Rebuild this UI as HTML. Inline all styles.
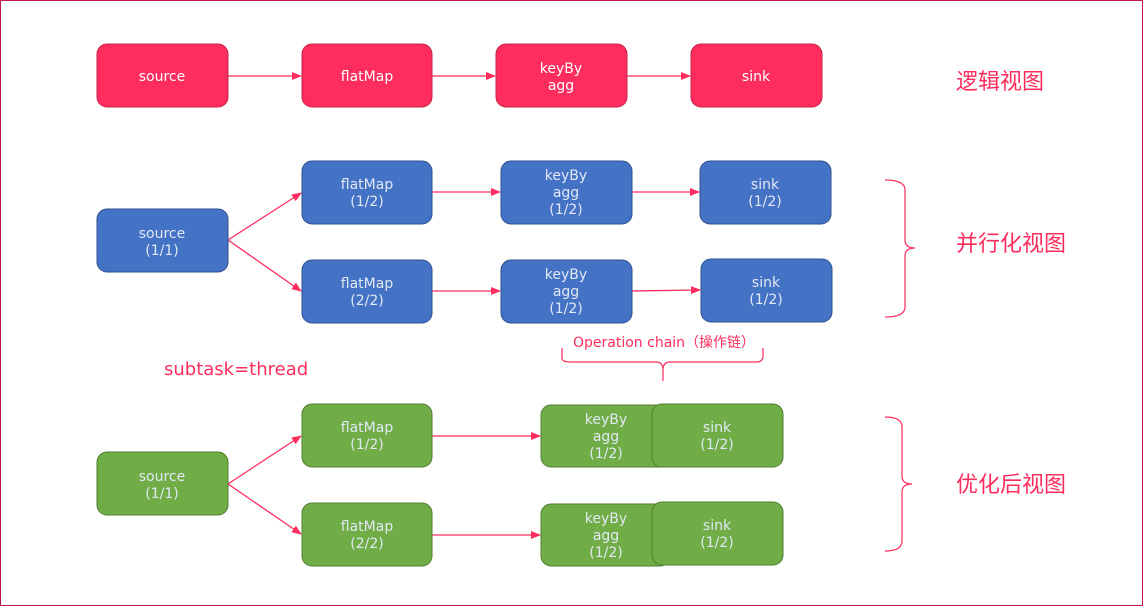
<!DOCTYPE html>
<html><head><meta charset="utf-8"><style>
html,body{margin:0;padding:0;background:#fff}
svg{display:block}
text{font-family:"DejaVu Sans","Liberation Sans","Noto Sans CJK SC",sans-serif}
</style></head><body>
<svg width="1143" height="606" viewBox="0 0 1143 606" xmlns="http://www.w3.org/2000/svg">
<defs><marker id="a" markerWidth="10" markerHeight="8" refX="9" refY="4" orient="auto" markerUnits="userSpaceOnUse"><path d="M0,0 L10,4 L0,8 z" fill="#ff2d5e"/></marker></defs>
<rect x="0.5" y="0.5" width="1142" height="605" fill="#fff" stroke="#c0184a" stroke-width="1"/>
<g stroke="#ff2d5e" stroke-width="1.3" fill="none" marker-end="url(#a)">
<line x1="228" y1="76" x2="301" y2="76"/><line x1="432" y1="76" x2="495" y2="76"/><line x1="627" y1="76" x2="690" y2="76"/>
<line x1="228" y1="240" x2="301" y2="193"/><line x1="228" y1="240" x2="301" y2="291"/>
<line x1="432" y1="192" x2="500" y2="192"/><line x1="632" y1="192" x2="699" y2="192"/>
<line x1="432" y1="291" x2="500" y2="291"/><line x1="632" y1="291" x2="700" y2="290"/>
<line x1="228" y1="484" x2="301" y2="436"/><line x1="228" y1="484" x2="301" y2="534"/>
<line x1="432" y1="436" x2="540" y2="436"/><line x1="432" y1="535" x2="540" y2="535"/>
</g>
<g fill="#ff2d5e" stroke="#c8234c" stroke-width="1">
<rect x="97" y="44" width="131" height="63" rx="10"/><rect x="302" y="44" width="130" height="63" rx="10"/>
<rect x="496" y="44" width="131" height="63" rx="10"/><rect x="691" y="44" width="131" height="63" rx="10"/>
</g>
<g fill="#4472c4" stroke="#2f528f" stroke-width="1">
<rect x="97" y="209" width="131" height="63" rx="10"/>
<rect x="302" y="161" width="130" height="63" rx="10"/><rect x="302" y="260" width="130" height="63" rx="10"/>
<rect x="501" y="161" width="131" height="63" rx="10"/><rect x="501" y="260" width="131" height="63" rx="10"/>
<rect x="700" y="161" width="131" height="63" rx="10"/><rect x="701" y="259" width="131" height="63" rx="10"/>
</g>
<g fill="#70ad47" stroke="#507e32" stroke-width="1">
<rect x="97" y="452" width="131" height="63" rx="10"/>
<rect x="302" y="404" width="130" height="63" rx="10"/><rect x="302" y="503" width="130" height="63" rx="10"/>
<rect x="541" y="405" width="129" height="62" rx="10"/><rect x="652" y="404" width="131" height="63" rx="10"/>
<rect x="541" y="504" width="129" height="62" rx="10"/><rect x="652" y="502" width="131" height="63" rx="10"/>
</g>
<g font-size="14" text-anchor="middle" fill="#fff">
<text x="162" y="81">source</text><text x="367" y="81">flatMap</text>
<text x="561" y="73">keyBy</text><text x="561" y="90">agg</text><text x="756" y="81">sink</text>
</g>
<g font-size="14" text-anchor="middle" fill="#e2e8f4">
<text x="162" y="238">source</text><text x="162" y="255">(1/1)</text>
<text x="367" y="189">flatMap</text><text x="367" y="206">(1/2)</text>
<text x="367" y="288">flatMap</text><text x="367" y="305">(2/2)</text>
<text x="566" y="180">keyBy</text><text x="566" y="197">agg</text><text x="566" y="214">(1/2)</text>
<text x="566" y="279">keyBy</text><text x="566" y="296">agg</text><text x="566" y="313">(1/2)</text>
<text x="765" y="189">sink</text><text x="765" y="206">(1/2)</text>
<text x="766" y="287">sink</text><text x="766" y="304">(1/2)</text>
<text x="162" y="481">source</text><text x="162" y="498">(1/1)</text>
<text x="367" y="432">flatMap</text><text x="367" y="449">(1/2)</text>
<text x="367" y="531">flatMap</text><text x="367" y="548">(2/2)</text>
<text x="606" y="424">keyBy</text><text x="606" y="441">agg</text><text x="606" y="458">(1/2)</text>
<text x="606" y="523">keyBy</text><text x="606" y="540">agg</text><text x="606" y="557">(1/2)</text>
<text x="717" y="432">sink</text><text x="717" y="449">(1/2)</text>
<text x="717" y="530">sink</text><text x="717" y="547">(1/2)</text>
</g>
<g stroke="#ff2d5e" stroke-width="1.2" fill="none">
<path d="M885,180 Q905,180 905,190 L905,240 Q905,248 915,248 Q905,248 905,256 L905,307 Q905,317 885,317"/>
<path d="M885,417 Q902,417 902,427 L902,476 Q902,484 912,484 Q902,484 902,492 L902,541 Q902,551 885,551"/>
<path d="M562,348 L562,358 Q562,362 570,362 L656,362 Q663,362 663,370 L663,381 M663,370 Q663,362 670,362 L756,362 Q763,362 763,356 L763,348"/>
</g>
<g fill="#ff2d5e">
<text x="956" y="89" font-size="22" font-family="Noto Sans CJK SC,sans-serif">逻辑视图</text>
<text x="956" y="251" font-size="22" font-family="Noto Sans CJK SC,sans-serif">并行化视图</text>
<text x="956" y="492" font-size="22" font-family="Noto Sans CJK SC,sans-serif">优化后视图</text>
<text x="164" y="375" font-size="18">subtask=thread</text>
<text x="573" y="347" font-size="14">Operation chain（操作链）</text>
</g>
</svg>
</body></html>
